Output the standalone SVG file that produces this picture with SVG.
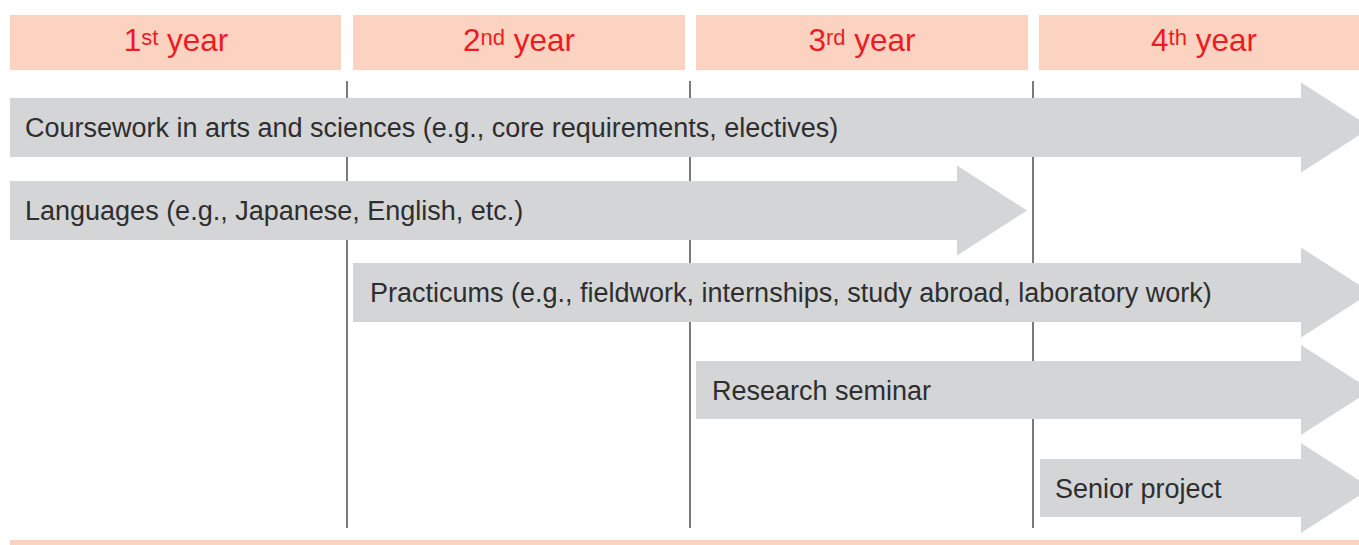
<svg xmlns="http://www.w3.org/2000/svg" width="1359" height="545" viewBox="0 0 1359 545">
<style>
.hdr{fill:#fcd3c1}
.yr{font-family:"Liberation Sans",Arial,sans-serif;font-size:31.5px;fill:#ed1c24;text-anchor:middle}
.sup{font-size:22px}
.arr{fill:#d4d5d7}
.lbl{font-family:"Liberation Sans",Arial,sans-serif;font-size:27px;fill:#2e2e2e}
.vl{stroke:#222;stroke-width:1.2}
</style>
<rect width="1359" height="545" fill="#fff"/>
<g id="header-1"><rect class="hdr" x="10" y="15" width="331" height="55"/><text class="yr" x="176" y="51">1<tspan class="sup" dy="-6">st</tspan><tspan dy="6"> year</tspan></text></g>
<g id="header-2"><rect class="hdr" x="353" y="15" width="332" height="55"/><text class="yr" x="519" y="51">2<tspan class="sup" dy="-6">nd</tspan><tspan dy="6"> year</tspan></text></g>
<g id="header-3"><rect class="hdr" x="696" y="15" width="332" height="55"/><text class="yr" x="862" y="51">3<tspan class="sup" dy="-6">rd</tspan><tspan dy="6"> year</tspan></text></g>
<g id="header-4"><rect class="hdr" x="1039" y="15" width="331" height="55"/><text class="yr" x="1204" y="51">4<tspan class="sup" dy="-6">th</tspan><tspan dy="6"> year</tspan></text></g>
<g id="connectors">
<line class="vl" x1="347" y1="81" x2="347" y2="528"/>
<line class="vl" x1="690" y1="81" x2="690" y2="528"/>
<line class="vl" x1="1033" y1="81" x2="1033" y2="528"/>
</g>
<g id="coursework"><path class="arr" d="M10,98 H1301 V82.5 L1371,127.5 L1301,172.5 V157 H10 Z"/><text class="lbl" x="25" y="137">Coursework in arts and sciences (e.g., core requirements, electives)</text></g>
<g id="languages"><path class="arr" d="M10,181 H957 V165.5 L1027,210.5 L957,255.5 V240 H10 Z"/><text class="lbl" x="25" y="220">Languages (e.g., Japanese, English, etc.)</text></g>
<g id="practicums"><path class="arr" d="M353,263 H1301 V247.5 L1371,292.5 L1301,337.5 V322 H353 Z"/><text class="lbl" x="370" y="302">Practicums (e.g., fieldwork, internships, study abroad, laboratory work)</text></g>
<g id="research-seminar"><path class="arr" d="M696,361 H1301 V345 L1371,390 L1301,435 V419 H696 Z"/><text class="lbl" x="712" y="399.5">Research seminar</text></g>
<g id="senior-project"><path class="arr" d="M1040,459 H1301 V443 L1371,488 L1301,533 V517 H1040 Z"/><text class="lbl" x="1055" y="497.5">Senior project</text></g>
<rect id="bottom-bar" class="hdr" x="10" y="540" width="1349" height="5"/>
</svg>
